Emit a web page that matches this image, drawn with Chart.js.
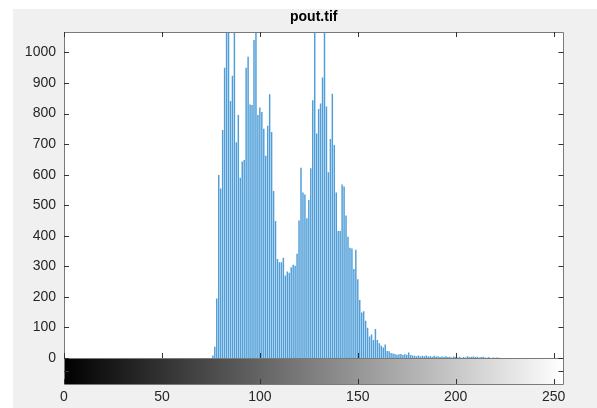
<!DOCTYPE html>
<html>
<head>
<meta charset="UTF-8">
<title>pout.tif</title>
<script src="https://cdn.jsdelivr.net/npm/chart.js"></script>
<style>
  body { margin: 0; background: #ffffff; }
  #fig { position: absolute; left: 13px; top: 9px; width: 584px; height: 399px; background: #f0f0f0; }
</style>
</head>
<body>
<div id="fig"><canvas id="hist" width="584" height="399"></canvas></div>
<script>
// histogram counts per grey level 0..255 (tall ones are clipped)
var counts = [
  0,0,0,0,0,0,0,0,0,0,0,0,0,0,0,0,
  0,0,0,0,0,0,0,0,0,0,0,0,0,0,0,0,
  0,0,0,0,0,0,0,0,0,0,0,0,0,0,0,0,
  0,0,0,0,0,0,0,0,0,0,0,0,0,0,0,0,
  0,0,0,0,0,0,0,0,0,0,0,0,8,37,195,599,
  555,746,950,1200,1200,841,924,1200,706,795,590,643,648,950,986,830,
  828,1041,1200,795,820,805,750,662,760,863,740,547,448,324,313,313,
  328,270,283,279,297,305,302,341,450,623,542,535,457,517,621,844,
  1200,735,815,833,918,1200,823,608,717,865,697,542,416,416,568,561,
  466,397,361,358,291,354,258,190,149,153,122,99,70,77,59,95,
  59,48,40,34,44,23,22,16,15,13,11,12,13,10,12,11,
  18,10,8,7,6,8,5,7,6,8,5,6,4,7,5,6,
  3,5,4,6,3,4,2,5,3,2,4,1,3,2,6,3,
  4,5,3,4,2,3,4,2,1,3,0,2,1,2,1,0,
  0,0,0,0,0,0,0,0,0,0,0,0,0,0,0,0,
  0,0,0,0,0,0,0,0,0,0,0,0,0,0,0,0
];
var xTicks = [0, 50, 100, 150, 200, 250];
var yTicks = [0, 100, 200, 300, 400, 500, 600, 700, 800, 900, 1000];
var yMax = 1067;

var points = counts.map(function (c, i) { return { x: i, y: c }; });

var boxColor = '#7a7a7a';
var textColor = '#262626';
var barH = 26; // height of the grey colorbar under the axes

// matlab style box, inward ticks and the grey colorbar
var matlabAxes = {
  id: 'matlabAxes',
  beforeDraw: function (chart) {
    var a = chart.chartArea;
    chart.ctx.save();
    chart.ctx.fillStyle = '#ffffff';
    chart.ctx.fillRect(a.left, a.top, a.right - a.left, a.bottom - a.top);
    chart.ctx.restore();
  },
  afterDraw: function (chart) {
    var ctx = chart.ctx;
    var a = chart.chartArea;
    var xs = chart.scales.x;
    var ys = chart.scales.y;
    var tl = 5;
    ctx.save();

    // colorbar
    var x0 = xs.getPixelForValue(0);
    var x1 = xs.getPixelForValue(255);
    var g = ctx.createLinearGradient(x0, 0, x1, 0);
    g.addColorStop(0, '#000000');
    g.addColorStop(1, '#ffffff');
    ctx.fillStyle = g;
    ctx.fillRect(a.left, a.bottom, a.right - a.left, barH);

    ctx.strokeStyle = boxColor;
    ctx.lineWidth = 1;
    ctx.beginPath();
    ctx.rect(Math.round(a.left) + 0.5, Math.round(a.top) + 0.5, Math.round(a.right - a.left), Math.round(a.bottom - a.top));
    ctx.rect(Math.round(a.left) + 0.5, Math.round(a.bottom) + 0.5, Math.round(a.right - a.left), barH);
    ctx.stroke();

    ctx.strokeStyle = '#333333';
    ctx.beginPath();
    yTicks.forEach(function (v) {
      var y = Math.round(ys.getPixelForValue(v)) + 0.5;
      ctx.moveTo(a.left, y); ctx.lineTo(a.left + tl, y);
      ctx.moveTo(a.right, y); ctx.lineTo(a.right - tl, y);
    });
    xTicks.forEach(function (v) {
      var x = Math.round(xs.getPixelForValue(v)) + 0.5;
      ctx.moveTo(x, a.top); ctx.lineTo(x, a.top + tl);
      ctx.moveTo(x, a.bottom); ctx.lineTo(x, a.bottom - tl);
      ctx.moveTo(x, a.bottom + barH); ctx.lineTo(x, a.bottom + barH - tl);
    });
    var ym = Math.round(a.bottom + barH / 2) + 0.5;
    ctx.moveTo(a.left, ym); ctx.lineTo(a.left + tl, ym);
    ctx.moveTo(a.right, ym); ctx.lineTo(a.right - tl, ym);
    ctx.stroke();
    ctx.restore();
  }
};

function keepTicks(list) {
  return function (scale) {
    scale.ticks = list.map(function (v) { return { value: v }; });
  };
}

function plain(v) { return String(v); }

new Chart(document.getElementById('hist'), {
  type: 'bar',
  data: {
    datasets: [{
      data: points,
      backgroundColor: '#4f9ed8',
      borderWidth: 0,
      barPercentage: 0.75,
      categoryPercentage: 1
    }]
  },
  options: {
    responsive: false,
    animation: false,
    devicePixelRatio: 1,
    layout: { padding: { left: 0, right: 31, top: 0, bottom: 0 } },
    plugins: {
      legend: { display: false },
      tooltip: { enabled: false },
      title: {
        display: true,
        text: 'pout.tif',
        fullSize: false,
        color: '#000000',
        font: { family: 'Liberation Sans, Arial, sans-serif', size: 14, weight: 'bold' },
        padding: { top: 0, bottom: 6.2 }
      }
    },
    scales: {
      x: {
        type: 'linear',
        min: 0,
        max: 255,
        offset: false,
        afterBuildTicks: keepTicks(xTicks),
        afterFit: function (s) { s.height = 50; },
        grid: { display: false, drawTicks: false },
        border: { display: false },
        ticks: {
          padding: 31,
          color: textColor,
          maxRotation: 0,
          autoSkip: false,
          callback: plain,
          font: { family: 'Liberation Sans, Arial, sans-serif', size: 14 }
        }
      },
      y: {
        min: 0,
        max: yMax,
        afterBuildTicks: keepTicks(yTicks),
        afterFit: function (s) { s.width = 51; },
        grid: { display: false, drawTicks: false },
        border: { display: false },
        ticks: {
          padding: 8,
          color: textColor,
          autoSkip: false,
          callback: plain,
          font: { family: 'Liberation Sans, Arial, sans-serif', size: 14 }
        }
      }
    }
  },
  plugins: [matlabAxes]
});
</script>
</body>
</html>
